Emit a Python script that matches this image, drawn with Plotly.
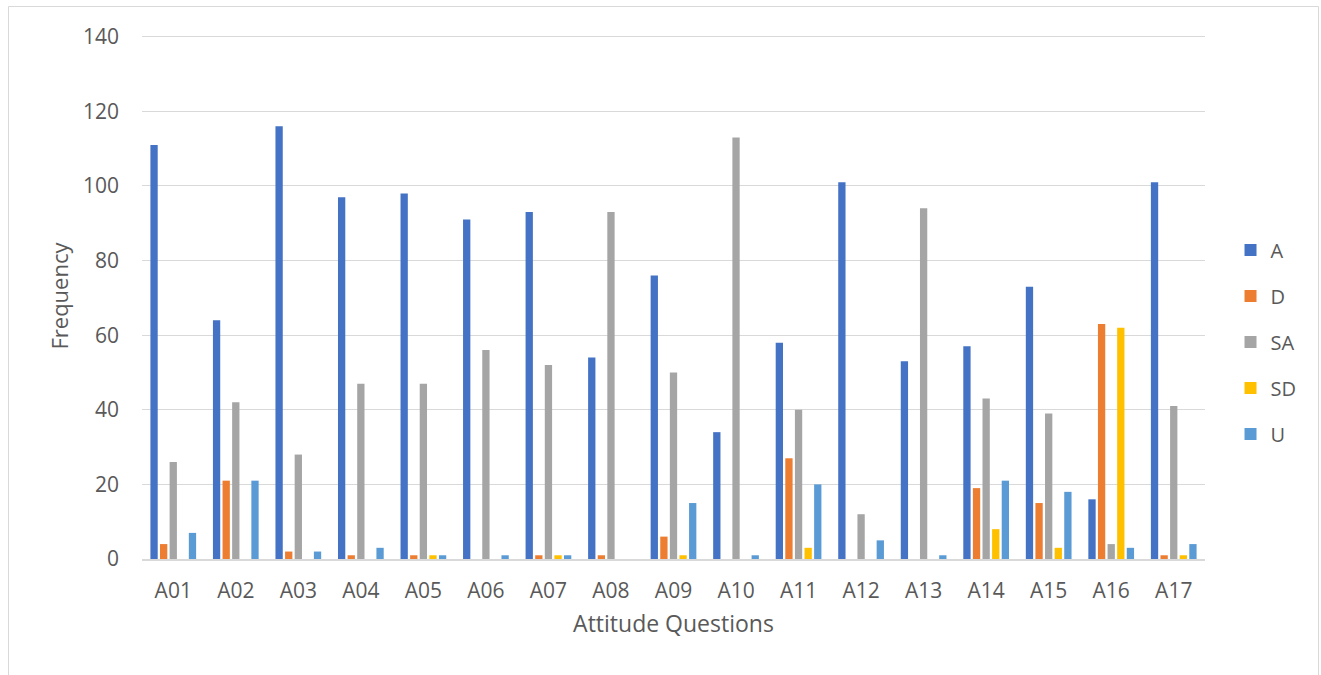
import plotly.graph_objects as go

# Attitude questionnaire: response counts per question
questions = ["A01", "A02", "A03", "A04", "A05", "A06", "A07", "A08", "A09",
             "A10", "A11", "A12", "A13", "A14", "A15", "A16", "A17"]

agree = [111, 64, 116, 97, 98, 91, 93, 54, 76, 34, 58, 101, 53, 57, 73, 16, 101]
disagree = [4, 21, 2, 1, 1, 0, 1, 1, 6, 0, 27, 0, 0, 19, 15, 63, 1]
strongly_agree = [26, 42, 28, 47, 47, 56, 52, 93, 50, 113, 40, 12, 94, 43, 39, 4, 41]
strongly_disagree = [0, 0, 0, 0, 1, 0, 1, 0, 1, 0, 3, 0, 0, 8, 3, 62, 1]
undecided = [7, 21, 2, 3, 1, 1, 1, 0, 15, 1, 20, 5, 1, 21, 18, 3, 4]

series = [
    ("A", agree, "#4472C4"),
    ("D", disagree, "#ED7D31"),
    ("SA", strongly_agree, "#A5A5A5"),
    ("SD", strongly_disagree, "#FFC000"),
    ("U", undecided, "#5B9BD5"),
]

FONT = "Open Sans"
TEXT = "#595959"
GRID = "#D9D9D9"

fig = go.Figure()
for name, values, color in series:
    fig.add_trace(go.Bar(
        x=questions, y=values, name=name,
        marker=dict(color=color, line=dict(width=0)),
        legendgroup=name,
    ))

# plot-area pixel geometry used to place the outer chart frame
W, H = 1321, 675
ml, mr, mt, mb = 142, 116, 33, 116
pw, ph = W - ml - mr, H - mt - mb

def px_x(x):
    return (x - ml) / pw

def px_y(y):
    return (H - mb - y) / ph

fig.add_shape(
    type="rect", xref="paper", yref="paper",
    x0=px_x(8.5), x1=px_x(1318.5), y0=px_y(700), y1=px_y(6.5),
    line=dict(color="#D9D9D9", width=1), fillcolor="rgba(0,0,0,0)",
    layer="below",
)

fig.update_layout(
    width=W, height=H,
    margin=dict(l=ml, r=mr, t=mt, b=mb),
    paper_bgcolor="white", plot_bgcolor="white",
    barmode="group", bargap=0.232, bargroupgap=0.24,
    font=dict(family=FONT, size=21, color=TEXT),
    xaxis=dict(
        title=dict(text="Attitude Questions", font=dict(size=23, color=TEXT), standoff=13),
        showgrid=False, showline=True, linecolor=GRID, linewidth=1.5,
        ticks="", ticklabelstandoff=12, tickfont=dict(size=21, color=TEXT),
    ),
    yaxis=dict(
        title=dict(text="Frequency", font=dict(size=22, color=TEXT), standoff=8),
        range=[0, 141], tickvals=[0, 20, 40, 60, 80, 100, 120, 140],
        showgrid=True, gridcolor=GRID, gridwidth=1.3,
        zeroline=False, showline=False, ticks="", ticklabelstandoff=22,
        tickfont=dict(size=21, color=TEXT),
    ),
    legend=dict(
        x=1.024, xanchor="left", y=0.4125, yanchor="middle",
        font=dict(size=20, color=TEXT),
        traceorder="grouped", tracegroupgap=17,
        bgcolor="rgba(0,0,0,0)",
    ),
)

fig.write_html("out.html")
